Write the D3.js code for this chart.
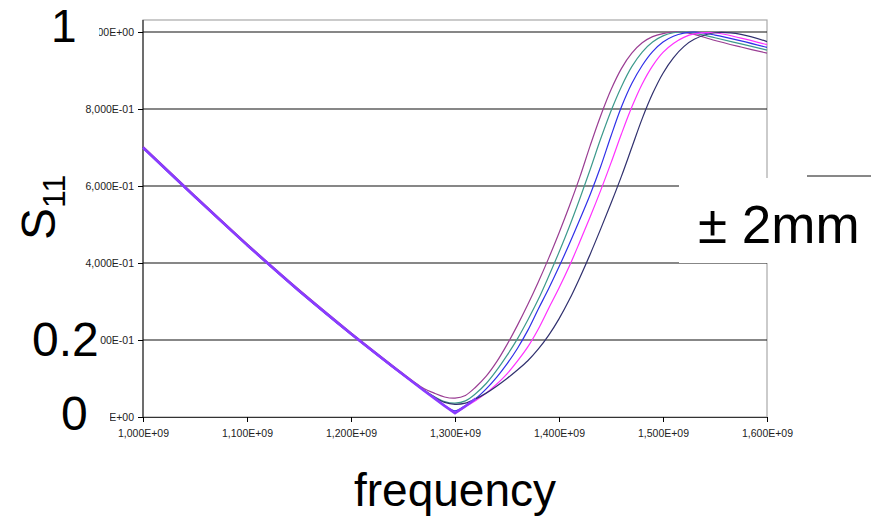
<!DOCTYPE html>
<html>
<head>
<meta charset="utf-8">
<script src="https://cdn.jsdelivr.net/npm/d3@7"></script>
<style>
  body { margin: 0; background: #fff; }
  svg { display: block; font-family: "Liberation Sans", Arial, sans-serif; }
</style>
</head>
<body>
<svg id="chart" width="871" height="517"></svg>
<script>
// frequency grid, GHz
var freqGHz = [1.00, 1.05, 1.10, 1.15, 1.20, 1.24,
               1.27, 1.28, 1.29, 1.30, 1.31, 1.32, 1.33, 1.34, 1.35, 1.36, 1.37, 1.38, 1.39,
               1.40, 1.41, 1.42, 1.43, 1.44, 1.45, 1.46, 1.47, 1.48, 1.49, 1.50, 1.51, 1.52, 1.53,
               1.55, 1.575, 1.60];

// S11 magnitude for each antenna length
var purpleS11  = [0.703, 0.575, 0.450, 0.331, 0.219, 0.134,
                  0.074, 0.062, 0.052, 0.049, 0.056, 0.078, 0.106, 0.143, 0.188, 0.238, 0.292, 0.350, 0.412,
                  0.478, 0.548, 0.623, 0.705, 0.782, 0.850, 0.905, 0.945, 0.972, 0.988, 0.996, 1.000, 0.999, 0.994,
                  0.978, 0.961, 0.945];
var tealS11    = [0.700, 0.572, 0.447, 0.328, 0.216, 0.131,
                  0.070, 0.053, 0.040, 0.036, 0.042, 0.061, 0.087, 0.121, 0.160, 0.203, 0.252, 0.305, 0.365,
                  0.428, 0.495, 0.567, 0.643, 0.722, 0.795, 0.858, 0.910, 0.948, 0.974, 0.990, 0.998, 1.000, 0.997,
                  0.985, 0.969, 0.953];
var blueS11    = [0.698, 0.570, 0.445, 0.326, 0.214, 0.129,
                  0.069, 0.049, 0.030, 0.016, 0.030, 0.048, 0.073, 0.103, 0.138, 0.178, 0.225, 0.280, 0.333,
                  0.390, 0.450, 0.513, 0.578, 0.650, 0.730, 0.805, 0.866, 0.913, 0.949, 0.974, 0.989, 0.997, 1.000,
                  0.992, 0.977, 0.960];
var magentaS11 = [0.699, 0.571, 0.446, 0.327, 0.215, 0.130,
                  0.069, 0.049, 0.029, 0.012, 0.027, 0.043, 0.062, 0.085, 0.112, 0.145, 0.182, 0.228, 0.282,
                  0.335, 0.392, 0.455, 0.520, 0.588, 0.660, 0.735, 0.805, 0.865, 0.912, 0.947, 0.970, 0.986, 0.995,
                  0.998, 0.984, 0.967];
var navyS11    = [0.701, 0.573, 0.448, 0.329, 0.217, 0.132,
                  0.070, 0.052, 0.038, 0.033, 0.036, 0.047, 0.062, 0.080, 0.100, 0.122, 0.146, 0.176, 0.212,
                  0.255, 0.305, 0.362, 0.423, 0.488, 0.555, 0.625, 0.700, 0.775, 0.840, 0.893, 0.933, 0.962, 0.981,
                  0.998, 0.994, 0.975];
// the sharp dip, drawn thick over the others
var violetS11  = [0.700, 0.572, 0.447, 0.328, 0.216, 0.131,
                  0.069, 0.049, 0.029, 0.010, 0.028, 0.048, null, null, null, null, null, null, null,
                  null, null, null, null, null, null, null, null, null, null, null, null, null, null,
                  null, null, null];

var seriesNames  = ['purple', 'teal', 'blue', 'magenta', 'navy'];
var seriesValues = [purpleS11, tealS11, blueS11, magentaS11, navyS11];
var seriesColors = ['#9a3d93', '#3d9a8c', '#3030e8', '#ff30ff', '#30306e'];

var xTicks = [1.0e9, 1.1e9, 1.2e9, 1.3e9, 1.4e9, 1.5e9, 1.6e9];
var xTickLabels = ['1,000E+09', '1,100E+09', '1,200E+09', '1,300E+09', '1,400E+09', '1,500E+09', '1,600E+09'];
var yTicks = [0, 0.2, 0.4, 0.6, 0.8, 1.0];
var yTickLabels = ['0,000E+00', '2,000E-01', '4,000E-01', '6,000E-01', '8,000E-01', '1,000E+00'];

var svg = d3.select('#chart');

var x = d3.scaleLinear().domain([1.0e9, 1.6e9]).range([143, 767]);
var y = d3.scaleLinear().domain([0, 1]).range([417, 32]);

// plot frame
svg.append('rect')
    .attr('x', 143).attr('y', 20)
    .attr('width', 624).attr('height', 397)
    .attr('fill', 'none')
    .attr('stroke', '#a8a8a8')
    .attr('stroke-width', 1.2);

// horizontal gridlines
svg.append('g').selectAll('line')
    .data(yTicks.slice(1))
  .enter().append('line')
    .attr('x1', 143).attr('x2', 767)
    .attr('y1', function(d) { return y(d); })
    .attr('y2', function(d) { return y(d); })
    .attr('stroke', '#111')
    .attr('stroke-width', 1.1);

// axes
var yAxis = d3.axisLeft(y)
    .tickValues(yTicks)
    .tickSizeInner(5).tickSizeOuter(0)
    .tickFormat(function(d, i) { return yTickLabels[i]; });
var gy = svg.append('g').attr('transform', 'translate(143,0)').call(yAxis);
gy.select('.domain').attr('d', 'M0,20V417').attr('stroke', '#111');

var xAxis = d3.axisBottom(x)
    .tickValues(xTicks)
    .tickSizeInner(5).tickSizeOuter(0)
    .tickFormat(function(d, i) { return xTickLabels[i]; });
var gx = svg.append('g').attr('transform', 'translate(0,417)').call(xAxis);
gx.select('.domain').attr('stroke', '#333');

svg.selectAll('.tick text')
    .attr('font-family', '"Liberation Sans", Arial, sans-serif')
    .attr('font-size', 10.5)
    .attr('fill', '#222');
gy.selectAll('.tick text').attr('x', -9);
gx.selectAll('.tick text').attr('y', 13);

// curves
var line = d3.line()
    .defined(function(d) { return d[1] != null; })
    .x(function(d) { return x(d[0] * 1e9); })
    .y(function(d) { return y(d[1]); })
    .curve(d3.curveCatmullRom.alpha(0.5));

var curves = svg.append('g').attr('fill', 'none');
seriesValues.forEach(function(vals, i) {
  curves.append('path')
      .attr('class', 'curve-' + seriesNames[i])
      .datum(freqGHz.map(function(f, j) { return [f, vals[j]]; }))
      .attr('d', line)
      .attr('stroke', seriesColors[i])
      .attr('stroke-width', 1.2);
});

curves.append('path')
    .datum(freqGHz.map(function(f, j) { return [f, violetS11[j]]; }))
    .attr('d', line.curve(d3.curveLinear))
    .attr('stroke', '#8a3cff')
    .attr('stroke-width', 2.6)
    .attr('stroke-linejoin', 'round');

// pasted-over labels on white patches
var patches = [
  [30, 0, 69, 48],
  [30, 318, 70, 44],
  [40, 392, 70, 36],
  [679, 178, 192, 85]
];
svg.append('g').selectAll('rect')
    .data(patches)
  .enter().append('rect')
    .attr('x', function(d) { return d[0]; })
    .attr('y', function(d) { return d[1]; })
    .attr('width', function(d) { return d[2]; })
    .attr('height', function(d) { return d[3]; })
    .attr('fill', '#fff');

svg.append('line')
    .attr('x1', 807).attr('x2', 871)
    .attr('y1', 176).attr('y2', 176)
    .attr('stroke', '#111');

var big = svg.append('g').attr('fill', '#000').attr('font-size', 48);
big.append('text').attr('x', 51).attr('y', 42).attr('font-size', 46).text('1');
big.append('text').attr('x', 32).attr('y', 356).text('0.2');
big.append('text').attr('x', 61).attr('y', 430).text('0');
big.append('text').attr('x', 698).attr('y', 243).attr('font-size', 53).text('± 2mm');
big.append('text').attr('x', 455).attr('y', 506).attr('text-anchor', 'middle')
    .attr('font-size', 46).text('frequency');

var s11 = big.append('text')
    .attr('transform', 'translate(55,240) rotate(-90)');
s11.append('tspan').text('S');
s11.append('tspan').attr('font-size', 32).attr('dy', 10).text('11');
</script>
</body>
</html>
